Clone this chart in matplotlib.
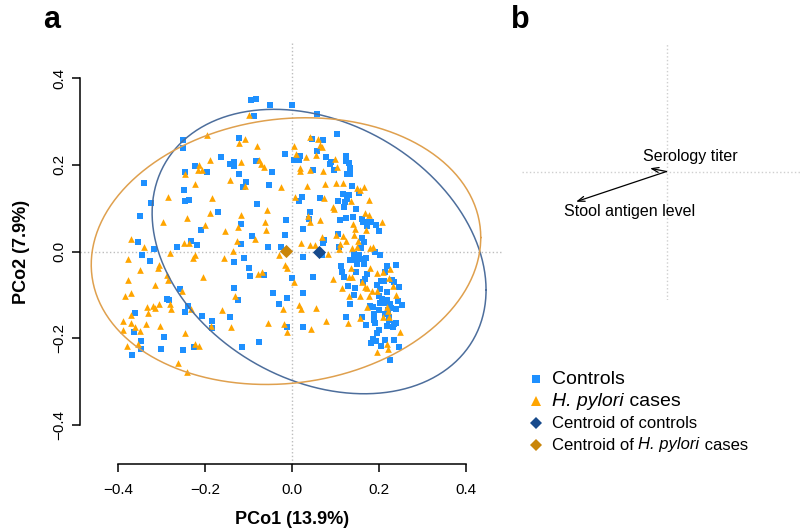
import numpy as np
import matplotlib
matplotlib.use("Agg")
import matplotlib.pyplot as plt

plt.rcParams['font.family'] = ['Liberation Sans', 'DejaVu Sans']

# PCoA coordinates, controls
controls_x = [
    -0.095, -0.082, -0.051, -0.087, -0.251, -0.250, -0.123, -0.163, -0.082, -0.142, -0.133, -0.133,
    -0.222, -0.247, -0.195, -0.121, -0.047, -0.105, -0.113, -0.053, -0.341, -0.248, -0.245, -0.236,
    -0.325, -0.081, -0.350, -0.170,
    -0.117, -0.210, -0.092, -0.354, -0.233, -0.219, -0.265, -0.117, -0.055, -0.026, -0.317, -0.345,
    -0.326, -0.134, -0.110, -0.098, -0.097, -0.065, -0.134, -0.258, -0.125, -0.043, -0.287, -0.283,
    -0.031, -0.240, -0.245, -0.360, -0.207, -0.143, -0.183, -0.183, -0.362, -0.294, -0.346, -0.077,
    -0.347, -0.368, -0.300, -0.251, -0.225, -0.116, -0.012,
    -0.001, 0.057, 0.103, 0.045, 0.072, 0.057, -0.016, 0.018, 0.016, 0.005, 0.079, 0.089, 0.087,
    0.123, 0.123, 0.131, 0.132, 0.096, 0.048, 0.127, 0.134, 0.137, 0.153, 0.117, 0.131, 0.063,
    0.022, 0.016, 0.125, 0.106, 0.122, 0.119, 0.146, 0.040, 0.038, 0.123, 0.139, 0.160, 0.176, 0.171,
    -0.015, 0.111, 0.163, 0.182, 0.192, 0.200, -0.017, 0.024, 0.105, 0.074, 0.072, 0.107, 0.161,
    0.164, 0.159, 0.142, 0.190, 0.202, 0.069, 0.025, 0.132, 0.145, 0.157, 0.170, 0.150, 0.165,
    0.113, 0.115, 0.147, 0.172, 0.119, 0.167, 0.162, 0.219, 0.238, 0.214, 0.205, 0.210, 0.230,
    0.233, 0.196, 0.202, 0.246, 0.217, 0.049, 0.000, 0.128, 0.145, 0.142, 0.200, 0.207, 0.217,
    0.244, 0.203, 0.213, 0.224, 0.253, 0.134, 0.178, 0.186, 0.228, 0.238, 0.200, 0.188, 0.214,
    0.222, 0.222, 0.235, 0.239, 0.217, 0.231, 0.187, 0.124, 0.160, 0.170, 0.200, 0.194, 0.024,
    -0.012, 0.024, 0.186, 0.182, 0.192, 0.205, 0.213, 0.233, 0.245, 0.224, 0.154, 0.221, 0.190,
]
controls_y = [
    0.349, 0.352, 0.339, 0.313, 0.257, 0.239, 0.261, 0.218, 0.208, 0.202, 0.206, 0.197,
    0.197, 0.184, 0.184, 0.180, 0.184, 0.160, 0.148, 0.153, 0.157, 0.141, 0.116, 0.119,
    0.113, 0.110, 0.082, 0.091,
    0.063, 0.050, 0.037, 0.022, 0.025, 0.016, 0.011, 0.017, 0.011, 0.010, 0.005, -0.009,
    -0.022, -0.025, -0.014, -0.039, -0.057, -0.054, -0.084, -0.087, -0.111, -0.096, -0.109, -0.111,
    -0.121, -0.126, -0.139, -0.141, -0.149, -0.151, -0.161, -0.176, -0.185, -0.198, -0.206, -0.208,
    -0.224, -0.238, -0.224, -0.226, -0.221, -0.220, -0.174,
    0.339, 0.317, 0.270, 0.259, 0.258, 0.233, 0.225, 0.221, 0.212, 0.210, 0.218, 0.207, 0.203,
    0.221, 0.209, 0.205, 0.193, 0.187, 0.188, 0.179, 0.179, 0.151, 0.136, 0.132, 0.130, 0.123,
    0.125, 0.116, 0.122, 0.116, 0.114, 0.102, 0.097, 0.091, 0.076, 0.078, 0.079, 0.075, 0.068, 0.059,
    0.072, 0.072, 0.068, 0.067, 0.061, 0.047, 0.039, 0.053, 0.041, 0.027, 0.020, 0.010, 0.031,
    0.021, 0.008, -0.006, -0.001, -0.009, -0.008, -0.013, -0.019, -0.019, -0.018, -0.015, -0.029, -0.028,
    -0.034, -0.047, -0.047, -0.051, -0.059, -0.064, -0.071, -0.034, -0.031, -0.047, -0.068, -0.067, -0.065,
    -0.070, -0.078, -0.087, -0.081, -0.094, -0.058, -0.060, -0.080, -0.083, -0.100, -0.102, -0.110, -0.112,
    -0.113, -0.119, -0.119, -0.121, -0.123, -0.120, -0.126, -0.127, -0.131, -0.132, -0.135, -0.145, -0.145,
    -0.151, -0.157, -0.166, -0.165, -0.171, -0.173, -0.158, -0.152, -0.152, -0.170, -0.181, -0.188, -0.096,
    -0.106, -0.175, -0.202, -0.212, -0.207, -0.217, -0.203, -0.204, -0.221, -0.251, -0.008, -0.135, -0.165,
]

# PCoA coordinates, H. pylori cases
cases_x = [
    -0.100, -0.196, -0.123, -0.107, -0.080, -0.189, -0.117, -0.076, -0.072, -0.065, -0.214, -0.216,
    -0.206, -0.246, -0.143, -0.222, -0.109, -0.284, -0.185, -0.058, -0.189, -0.117, -0.241,
    -0.297, -0.199, -0.155, -0.125, -0.063, -0.061, -0.371, -0.341, -0.248, -0.236, -0.126, -0.085,
    -0.280, -0.223, -0.227, -0.157, -0.136, -0.377, -0.305, -0.308, -0.350, -0.030, -0.078, -0.068,
    -0.205, -0.288, -0.286, -0.377, -0.314, -0.370, -0.384, -0.253, -0.130, -0.305, -0.333, -0.319,
    -0.314, -0.280, -0.277, -0.232, -0.160, -0.330, -0.370, -0.388, -0.371, -0.360, -0.350, -0.336,
    -0.388, -0.304, -0.186, -0.140, -0.055, -0.245, -0.353, -0.378, -0.222, -0.214, -0.261, -0.242,
    0.042, 0.060, 0.064, 0.069, 0.005, 0.009, 0.032, 0.055, 0.098, 0.018, 0.018, 0.042, 0.070,
    0.102, 0.035, 0.075, 0.100, 0.117, -0.025, 0.150, 0.157, 0.165, 0.006, 0.074, 0.136, 0.176,
    0.094, 0.097, 0.168, 0.176, 0.037,
    0.042, 0.063, 0.140, 0.145, 0.169, 0.207, 0.101, 0.117, 0.123, 0.142, 0.151, 0.020, 0.042,
    0.053, 0.069, 0.110, 0.107, 0.137, 0.148, 0.178, 0.186, 0.082, -0.016, -0.011, 0.136, 0.178,
    0.196, 0.209, 0.224, 0.223, 0.093, 0.130, 0.137, 0.160, 0.167, 0.171, 0.115, 0.005, 0.231,
    0.196, 0.130, 0.157, 0.176, 0.184, 0.238, 0.171, 0.218, 0.221, 0.209, 0.223, 0.156, 0.129,
    0.078, 0.043, 0.055, 0.016, 0.020, -0.021, -0.018, -0.012, 0.248, 0.219, 0.221, 0.194,
]
cases_y = [
    0.316, 0.268, 0.251, 0.260, 0.244, 0.211, 0.207, 0.212, 0.203, 0.194, 0.199, 0.189,
    0.187, 0.178, 0.165, 0.155, 0.152, 0.126, 0.124, 0.096, 0.089, 0.084, 0.078,
    0.069, 0.062, 0.048, 0.056, 0.069, 0.050, 0.030, 0.011, 0.019, 0.019, 0.024, 0.030,
    -0.004, -0.009, -0.014, -0.015, 0.002, -0.018, -0.030, -0.037, -0.043, -0.009, -0.051, -0.047,
    -0.058, -0.055, -0.065, -0.066, -0.078, -0.095, -0.103, -0.092, -0.103, -0.120, -0.127, -0.125,
    -0.131, -0.122, -0.133, -0.132, -0.135, -0.141, -0.147, -0.160, -0.165, -0.174, -0.183, -0.168,
    -0.181, -0.171, -0.171, -0.173, -0.164, -0.189, -0.213, -0.218, -0.213, -0.218, -0.258, -0.277,
    0.265, 0.260, 0.245, 0.240, 0.244, 0.224, 0.219, 0.222, 0.213, 0.192, 0.185, 0.187, 0.185,
    0.196, 0.152, 0.155, 0.159, 0.157, 0.150, 0.147, 0.143, 0.148, 0.126, 0.124, 0.116, 0.120,
    0.102, 0.097, 0.089, 0.085, 0.081,
    0.067, 0.072, 0.063, 0.052, 0.050, 0.069, 0.039, 0.035, 0.025, 0.039, 0.024, 0.019, 0.016,
    0.016, 0.033, 0.018, 0.006, 0.008, 0.010, 0.008, 0.010, -0.005, -0.032, -0.037, -0.038, -0.039,
    -0.049, -0.047, -0.041, -0.062, -0.064, -0.058, -0.058, -0.070, -0.081, -0.083, -0.083, -0.071, -0.079,
    -0.090, -0.103, -0.102, -0.102, -0.090, -0.101, -0.127, -0.129, -0.138, -0.152, -0.152, -0.154, -0.164,
    -0.160, -0.179, -0.131, -0.123, -0.133, -0.133, -0.167, -0.186, -0.186, -0.213, -0.224, -0.232,
]

# group centroids and dispersion ellipses (covariance of ellipse shape)
centroid_controls = [0.062, 0.0]
centroid_cases = [-0.014, 0.001]
ellipse_cov_controls = [[0.147, -0.034], [-0.034, 0.1076]]
ellipse_cov_cases = [[0.200, 0.014], [0.014, 0.0946]]

# biplot of clinical variables (panel b)
var_names = ["Serology titer", "Stool antigen level"]
var_x = [-0.114, -0.626]
var_y = [0.025, -0.235]
label_x = [0.163, -0.253]
label_y = [0.115, -0.313]

c_ctrl = "#1E90FF"
c_case = "#FFA500"
c_ctrl_cent = "#174A8C"
c_case_cent = "#C98509"
c_ctrl_ell = "#4D6E9C"
c_case_ell = "#DFA04E"


def ellipse_path(center, cov, n=300):
    t = np.linspace(0, 2 * np.pi, n)
    L = np.linalg.cholesky(np.array(cov))
    pts = L @ np.vstack([np.cos(t), np.sin(t)])
    return pts[0] + center[0], pts[1] + center[1]


W, H = 803, 531
fig = plt.figure(figsize=(W / 100, H / 100), dpi=100)

# panel a
ax = fig.add_axes([80 / W, 1 - 464 / H, 422 / W, 421 / H])
ax.set_xlim(-0.487, 0.482)
ax.set_ylim(-0.490, 0.481)
ax.axhline(0, color="#BDBDBD", ls=":", lw=1.0, zorder=0)
ax.axvline(0, color="#BDBDBD", ls=":", lw=1.0, zorder=0)
ax.scatter(controls_x, controls_y, marker="s", s=15, color=c_ctrl, linewidths=0, zorder=2)
ax.scatter(cases_x, cases_y, marker="^", s=23, color=c_case, linewidths=0, zorder=2)
ex, ey = ellipse_path(centroid_controls, ellipse_cov_controls)
ax.plot(ex, ey, color=c_ctrl_ell, lw=1.1, zorder=3)
ex, ey = ellipse_path(centroid_cases, ellipse_cov_cases)
ax.plot(ex, ey, color=c_case_ell, lw=1.1, zorder=3)
ax.scatter([centroid_controls[0]], [centroid_controls[1]], marker="D", s=45, color=c_ctrl_cent, linewidths=0, zorder=4)
ax.scatter([centroid_cases[0]], [centroid_cases[1]], marker="D", s=45, color=c_case_cent, linewidths=0, zorder=4)

ticks = [-0.4, -0.2, 0.0, 0.2, 0.4]
tick_labels = ["\u22120.4", "\u22120.2", "0.0", "0.2", "0.4"]
ax.set_xticks(ticks)
ax.set_yticks(ticks)
ax.set_xticklabels(tick_labels)
ax.set_yticklabels(tick_labels, rotation=90, va="center")
for s in ["top", "right"]:
    ax.spines[s].set_visible(False)
for s in ["left", "bottom"]:
    ax.spines[s].set_bounds(-0.4, 0.4)
    ax.spines[s].set_linewidth(1.1)
ax.tick_params(length=6, width=1.1, labelsize=11)
ax.tick_params(axis="x", pad=8)
ax.tick_params(axis="y", pad=4)
fig.text(292 / W, 1 - 520 / H, "PCo1 (13.9%)", ha="center", va="center", fontsize=13, fontweight="bold")
fig.text(22 / W, 1 - 252 / H, "PCo2 (7.9%)", ha="center", va="center", fontsize=13, fontweight="bold", rotation=90)
fig.text(52 / W, 1 - 20 / H, "a", ha="center", va="center", fontsize=22, fontweight="bold")
fig.text(520 / W, 1 - 20 / H, "b", ha="center", va="center", fontsize=22, fontweight="bold")

# panel b
bx = fig.add_axes([522 / W, 1 - 300 / H, 289 / W, 257 / H])
bx.set_xlim(-1, 1)
bx.set_ylim(-1, 1)
bx.axis("off")
bx.axhline(0, color="#CFCFCF", ls=":", lw=1.0)
bx.axvline(0, color="#CFCFCF", ls=":", lw=1.0)
for name, x, y, tx, ty in zip(var_names, var_x, var_y, label_x, label_y):
    bx.annotate("", xy=(x, y), xytext=(0, 0),
                arrowprops=dict(arrowstyle="->,head_length=0.5,head_width=0.18", color="black", lw=0.9,
                                shrinkA=0, shrinkB=0))
    bx.text(tx, ty, name, ha="center", va="center", fontsize=11.5)

# legend (text pieces: (string, italic))
lg = fig.add_axes([0, 0, 1, 1], zorder=5)
lg.set_xlim(0, W)
lg.set_ylim(H, 0)
lg.axis("off")
leg_items = [
    ("s", c_ctrl, 5.5, [("Controls", False)], 14, 379),
    ("^", c_case, 7.5, [("H. pylori", True), (" cases", False)], 14, 401),
    ("D", c_ctrl_cent, 6.5, [("Centroid of controls", False)], 12, 423),
    ("D", c_case_cent, 6.5, [("Centroid of ", False), ("H. pylori", True), (" cases", False)], 12, 445),
]
renderer = fig.canvas.get_renderer()
for mk, col, ms, parts, fs, yy in leg_items:
    lg.plot([536], [yy], marker=mk, color=col, ms=ms, mew=0, ls="none")
    xx = 552
    for txt, ital in parts:
        t = lg.text(xx, yy, txt, ha="left", va="center", fontsize=fs,
                    style="italic" if ital else "normal")
        bb = t.get_window_extent(renderer=renderer)
        xx += bb.width

fig.savefig("out.png", dpi=100)
